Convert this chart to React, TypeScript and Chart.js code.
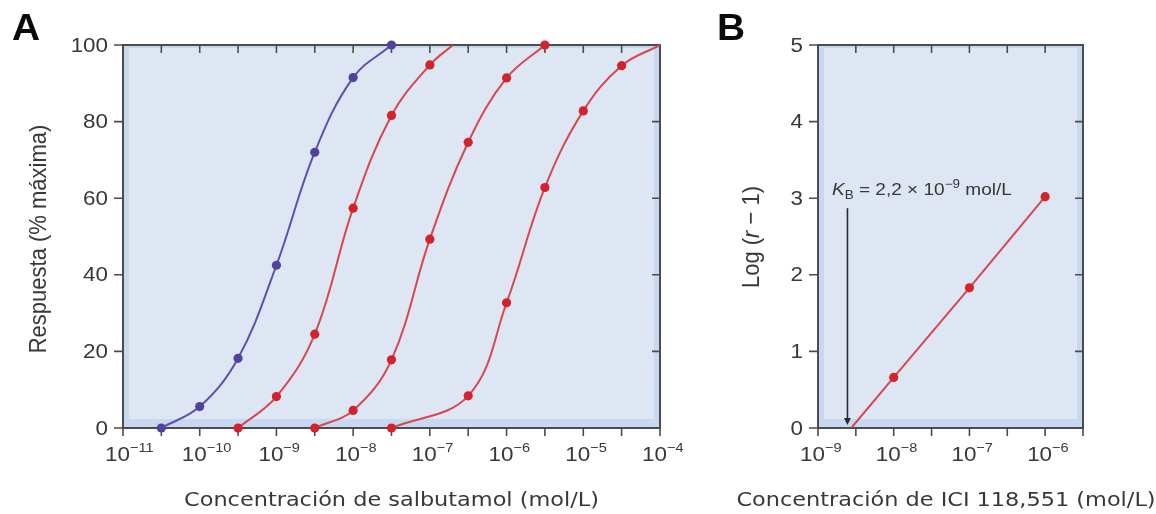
import React, { useEffect, useRef } from "react";
import { Chart, registerables } from "chart.js";

Chart.register(...registerables);

// ---------------- Panel A data: salbutamol concentration (mol/L) vs response (% max)
const blueConc = [3.16e-11, 1e-10, 3.16e-10, 1e-9, 3.16e-9, 1e-8, 3.16e-8];
const blueResp = [0, 5.6, 18.2, 42.5, 72, 91.5, 100];

const red1Conc = [3.16e-10, 1e-9, 3.16e-9, 1e-8, 3.16e-8, 1e-7];
const red1Resp = [0, 8.2, 24.5, 57.4, 81.6, 94.8];
const red1EndConc = 2e-7;
const red1EndResp = 100;

const red2Conc = [3.16e-9, 1e-8, 3.16e-8, 1e-7, 3.16e-7, 1e-6, 3.16e-6];
const red2Resp = [0, 4.6, 17.8, 49.3, 74.6, 91.4, 100];

const red3Conc = [3.16e-8, 3.16e-7, 1e-6, 3.16e-6, 1e-5, 3.16e-5];
const red3Resp = [0, 8.4, 32.7, 62.8, 82.8, 94.6];
const red3EndConc = 1e-4;
const red3EndResp = 100;

// ---------------- Panel B data: ICI 118,551 concentration vs Log(r - 1)
const iciConc = [1e-8, 1e-7, 1e-6];
const logR1 = [0.66, 1.83, 3.02];
const iciInterceptConc = 2.75e-9;
const iciInterceptVal = 0;
const kbArrowConc = 2.45e-9;
const kbArrowTop = 2.87;
const kbArrowBottom = 0;

// ---------------- Axes / ticks
const xMinA = 1e-11;
const xMaxA = 1e-4;
const yTicksA = [0, 20, 40, 60, 80, 100];
const xTickMarksA = [
  1e-11, 3.16e-11, 1e-10, 3.16e-10, 1e-9, 3.16e-9, 1e-8, 3.16e-8,
  1e-7, 3.16e-7, 1e-6, 3.16e-6, 1e-5, 3.16e-5, 1e-4,
];
const xLabelExpA = [-11, -10, -9, -8, -7, -6, -5, -4];

const xMinB = 1e-9;
const xMaxB = 3.162e-6;
const yTicksB = [0, 1, 2, 3, 4, 5];
const xTickMarksB = [1e-9, 3.16e-9, 1e-8, 3.16e-8, 1e-7, 3.16e-7, 1e-6, 3.162e-6];
const xLabelExpB = [-9, -8, -7, -6];

// ---------------- Texts
const panelLetterA = "A";
const panelLetterB = "B";
const xTitleA = "Concentración de salbutamol (mol/L)";
const yTitleA = "Respuesta (% máxima)";
const xTitleB = "Concentración de ICI 118,551 (mol/L)";
const yTitleBParts = ["Log (", "r", " − 1)"];
const kbParts = ["K", "B", " = 2,2 × 10", "−9", " mol/L"];

// ---------------- Styles
const SX = 1.12;
const TEXT = "#383838";
const AXIS = "#4c4c4c";
const BAND = "#c7d9f0";
const INNER = "#dde6f2";
const BLUE = "#54409f";
const BLUE_LINE = "#6150aa";
const RED = "#d3222c";
const RED_LINE = "#d6474f";
const TICK_FONT = '20px "Liberation Sans", Arial, sans-serif';
const SUP_FONT = '13px "Liberation Sans", Arial, sans-serif';
const TITLE_FONT = '20px "DejaVu Sans", Verdana, sans-serif';
const YTITLE_FONT = '22px "Liberation Sans", Arial, sans-serif';
const YTITLE_IT = 'italic 22px "Liberation Sans", Arial, sans-serif';
const LETTER_FONT = 'bold 36px "Liberation Sans", Arial, sans-serif';
const ANN_FONT = '17px "Liberation Sans", Arial, sans-serif';
const ANN_IT = 'italic 17px "Liberation Sans", Arial, sans-serif';
const ANN_SMALL = '12px "Liberation Sans", Arial, sans-serif';

type Run = { t: string; font: string; dy?: number };

function runsWidth(ctx: CanvasRenderingContext2D, runs: Run[], sx: number) {
  let w = 0;
  for (const r of runs) {
    ctx.font = r.font;
    w += ctx.measureText(r.t).width * sx;
  }
  return w;
}

function drawRuns(
  ctx: CanvasRenderingContext2D,
  runs: Run[],
  x: number,
  y: number,
  align: "left" | "center" | "right",
  sx: number,
  baseline: CanvasTextBaseline = "alphabetic",
  color: string = TEXT
) {
  ctx.save();
  const total = runsWidth(ctx, runs, sx);
  let cx = align === "left" ? x : align === "center" ? x - total / 2 : x - total;
  ctx.fillStyle = color;
  ctx.textAlign = "left";
  ctx.textBaseline = baseline;
  for (const r of runs) {
    ctx.font = r.font;
    const w = ctx.measureText(r.t).width * sx;
    ctx.save();
    ctx.translate(cx, y + (r.dy || 0));
    ctx.scale(sx, 1);
    ctx.fillText(r.t, 0, 0);
    ctx.restore();
    cx += w;
  }
  ctx.restore();
}

type PanelSpec = {
  id: string;
  letter: string;
  letterX: number;
  yTicks: number[];
  xTickMarks: number[];
  xLabelExp: number[];
  xTitle: string;
  xTitleX: number;
  yTitleRuns: Run[];
  yTitleX: number;
  yTitleY: number;
  extra?: (chart: any) => void;
};

function panelPlugin(p: PanelSpec) {
  return {
    id: p.id,
    beforeDatasetsDraw(chart: any) {
      const { ctx, chartArea } = chart;
      const { left, top, right, bottom } = chartArea;
      const xs = chart.scales.x;
      const ys = chart.scales.y;
      ctx.save();
      ctx.fillStyle = BAND;
      ctx.fillRect(left, top, right - left, bottom - top);
      ctx.fillStyle = INNER;
      ctx.fillRect(left + 6, top + 3, right - left - 12, bottom - top - 12);
      ctx.strokeStyle = AXIS;
      ctx.lineWidth = 2;
      ctx.strokeRect(left, top, right - left, bottom - top);
      ctx.beginPath();
      for (const v of p.xTickMarks) {
        const x = xs.getPixelForValue(v);
        ctx.moveTo(x, bottom);
        ctx.lineTo(x, bottom + 8);
        ctx.moveTo(x, top);
        ctx.lineTo(x, top + 8);
      }
      for (const v of p.yTicks) {
        const y = ys.getPixelForValue(v);
        ctx.moveTo(left - 9, y);
        ctx.lineTo(left, y);
        ctx.moveTo(right - 8, y);
        ctx.lineTo(right, y);
      }
      ctx.lineWidth = 1.6;
      ctx.stroke();
      ctx.restore();
    },
    afterDraw(chart: any) {
      const { ctx, chartArea } = chart;
      const { left, bottom } = chartArea;
      const xs = chart.scales.x;
      const ys = chart.scales.y;
      // y tick labels
      for (const v of p.yTicks) {
        const y = ys.getPixelForValue(v);
        drawRuns(ctx, [{ t: String(v), font: TICK_FONT }], left - 15, y + 1, "right", SX, "middle");
      }
      // x tick labels 10^n
      for (const e of p.xLabelExp) {
        const x = xs.getPixelForValue(Math.pow(10, e));
        drawRuns(
          ctx,
          [
            { t: "10", font: TICK_FONT },
            { t: "−" + Math.abs(e), font: SUP_FONT, dy: -9 },
          ],
          x - 18,
          bottom + 33,
          "left",
          SX
        );
      }
      // x title
      drawRuns(ctx, [{ t: p.xTitle, font: TITLE_FONT }], p.xTitleX, 506, "center", SX);
      // y title (rotated)
      ctx.save();
      ctx.translate(p.yTitleX, p.yTitleY);
      ctx.rotate(-Math.PI / 2);
      ctx.scale(1, SX);
      drawRuns(ctx, p.yTitleRuns, 0, 0, "center", 1, "middle");
      ctx.restore();
      // panel letter
      drawRuns(ctx, [{ t: p.letter, font: LETTER_FONT }], p.letterX, 40, "left", 1.08, "alphabetic", "#0a0a0a");
      if (p.extra) p.extra(chart);
    },
  };
}

const pts = (xs: number[], ys: number[]) => xs.map((x, i) => ({ x, y: ys[i] }));

function curveDs(data: { x: number; y: number }[], color: string, smooth: boolean) {
  return {
    data,
    showLine: true,
    borderColor: color,
    backgroundColor: color,
    borderWidth: 2,
    pointRadius: 0,
    pointHoverRadius: 0,
    tension: smooth ? 0.38 : 0,
    fill: false,
    order: 2,
  };
}

function markerDs(data: { x: number; y: number }[], color: string) {
  return {
    data,
    showLine: false,
    pointRadius: 4.6,
    pointHoverRadius: 4.6,
    pointBackgroundColor: color,
    pointBorderColor: color,
    pointBorderWidth: 0,
    clip: false,
    order: 1,
  };
}

function baseOptions(xMin: number, xMax: number, yMax: number, padRight: number, yWidth: number) {
  return {
    animation: false,
    responsive: false,
    maintainAspectRatio: false,
    devicePixelRatio: 1,
    events: [],
    layout: { padding: { top: 45, right: padRight, left: 0, bottom: 0 } },
    plugins: { legend: { display: false }, tooltip: { enabled: false } },
    scales: {
      x: {
        type: "logarithmic",
        min: xMin,
        max: xMax,
        ticks: { display: false },
        grid: { display: false },
        border: { display: false },
        afterFit: (s: any) => {
          s.height = 86;
        },
      },
      y: {
        type: "linear",
        min: 0,
        max: yMax,
        ticks: { display: false },
        grid: { display: false },
        border: { display: false },
        afterFit: (s: any) => {
          s.width = yWidth;
        },
      },
    },
  };
}

export default function App() {
  const refA = useRef<HTMLCanvasElement>(null);
  const refB = useRef<HTMLCanvasElement>(null);

  useEffect(() => {
    const specA: PanelSpec = {
      id: "panelA",
      letter: panelLetterA,
      letterX: 12,
      yTicks: yTicksA,
      xTickMarks: xTickMarksA,
      xLabelExp: xLabelExpA,
      xTitle: xTitleA,
      xTitleX: 391.5,
      yTitleRuns: [{ t: yTitleA, font: YTITLE_FONT }],
      yTitleX: 39,
      yTitleY: 239,
    };
    const chartA = new Chart(refA.current as HTMLCanvasElement, {
      type: "scatter",
      data: {
        datasets: [
          curveDs(pts(blueConc, blueResp), BLUE_LINE, true),
          curveDs([...pts(red1Conc, red1Resp), { x: red1EndConc, y: red1EndResp }], RED_LINE, true),
          curveDs(pts(red2Conc, red2Resp), RED_LINE, true),
          curveDs([...pts(red3Conc, red3Resp), { x: red3EndConc, y: red3EndResp }], RED_LINE, true),
          markerDs(pts(blueConc, blueResp), BLUE),
          markerDs(pts(red1Conc, red1Resp), RED),
          markerDs(pts(red2Conc, red2Resp), RED),
          markerDs(pts(red3Conc, red3Resp), RED),
        ],
      } as any,
      options: baseOptions(xMinA, xMaxA, 100, 40, 123) as any,
      plugins: [panelPlugin(specA)],
    });

    const specB: PanelSpec = {
      id: "panelB",
      letter: panelLetterB,
      letterX: 17,
      yTicks: yTicksB,
      xTickMarks: xTickMarksB,
      xLabelExp: xLabelExpB,
      xTitle: xTitleB,
      xTitleX: 246,
      yTitleRuns: [
        { t: yTitleBParts[0], font: YTITLE_FONT },
        { t: yTitleBParts[1], font: YTITLE_IT },
        { t: yTitleBParts[2], font: YTITLE_FONT },
      ],
      yTitleX: 52.5,
      yTitleY: 237,
      extra: (chart: any) => {
        const { ctx, chartArea } = chart;
        const xs = chart.scales.x;
        const ys = chart.scales.y;
        const ax = xs.getPixelForValue(kbArrowConc);
        const aTop = ys.getPixelForValue(kbArrowTop);
        const aBot = ys.getPixelForValue(kbArrowBottom);
        ctx.save();
        ctx.strokeStyle = "#2a2a2a";
        ctx.fillStyle = "#2a2a2a";
        ctx.lineWidth = 1.6;
        ctx.beginPath();
        ctx.moveTo(ax, aTop);
        ctx.lineTo(ax, aBot - 8);
        ctx.stroke();
        ctx.beginPath();
        ctx.moveTo(ax - 3.5, aBot - 10);
        ctx.lineTo(ax + 3.5, aBot - 10);
        ctx.lineTo(ax, aBot - 3);
        ctx.closePath();
        ctx.fill();
        ctx.restore();
        const by = ys.getPixelForValue(3) - 3;
        drawRuns(
          ctx,
          [
            { t: kbParts[0], font: ANN_IT },
            { t: kbParts[1], font: ANN_SMALL, dy: 4 },
            { t: kbParts[2], font: ANN_FONT },
            { t: kbParts[3], font: ANN_SMALL, dy: -7 },
            { t: kbParts[4], font: ANN_FONT },
          ],
          chartArea.left + 14,
          by,
          "left",
          SX
        );
      },
    };
    const chartB = new Chart(refB.current as HTMLCanvasElement, {
      type: "scatter",
      data: {
        datasets: [
          curveDs([{ x: iciInterceptConc, y: iciInterceptVal }, ...pts(iciConc, logR1)], RED_LINE, false),
          markerDs(pts(iciConc, logR1), RED),
        ],
      } as any,
      options: baseOptions(xMinB, xMaxB, 5, 73, 118) as any,
      plugins: [panelPlugin(specB)],
    });

    return () => {
      chartA.destroy();
      chartB.destroy();
    };
  }, []);

  return (
    <div
      style={{
        position: "absolute",
        left: 0,
        top: 0,
        width: 1156,
        height: 514,
        background: "#ffffff",
        overflow: "hidden",
      }}
    >
      <canvas
        ref={refA}
        width={700}
        height={514}
        style={{ position: "absolute", left: 0, top: 0, width: 700, height: 514 }}
      />
      <canvas
        ref={refB}
        width={456}
        height={514}
        style={{ position: "absolute", left: 700, top: 0, width: 456, height: 514 }}
      />
    </div>
  );
}
